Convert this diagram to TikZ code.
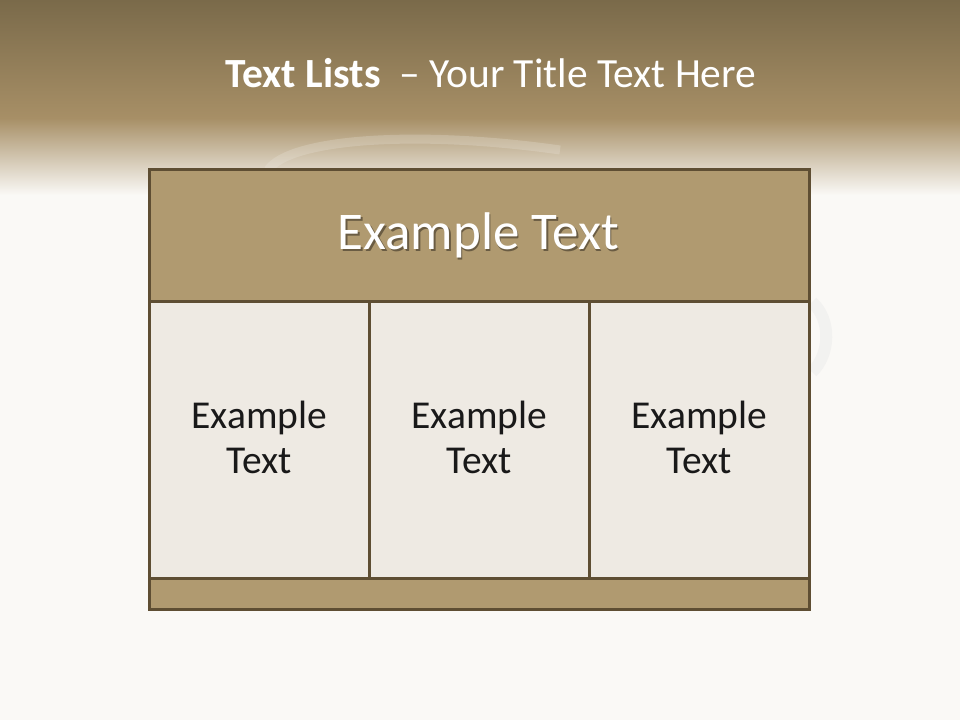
\documentclass[tikz,border=0pt]{standalone}
\usepackage{fontspec}
\setmainfont{Carlito}
\definecolor{bgc}{HTML}{FAF9F6}
\definecolor{topA}{HTML}{7A6A4A}
\definecolor{topB}{HTML}{A78F66}
\definecolor{edge}{HTML}{5E4E33}
\definecolor{tan}{HTML}{B09A70}
\definecolor{cellc}{HTML}{EEEAE3}
\colorlet{shadowc}{tan!60!black}
\newcommand{\shadowtext}[1]{\rlap{\kern1.5pt\raisebox{-2pt}{\textcolor{shadowc}{#1}}}#1}
\tikzset{
  panel/.style={draw=edge, line width=3pt, inner sep=0pt, anchor=north west},
  hdrbox/.style={panel, fill=tan, minimum width=660pt, minimum height=132pt},
  cellbox/.style={panel, fill=cellc, minimum width=220pt, minimum height=277pt},
  footbox/.style={panel, fill=tan, minimum width=660pt, minimum height=31pt},
  celltext/.style={font=\fontsize{39.5}{45}\selectfont, text=black!90, align=center},
}
\begin{document}
\begin{tikzpicture}[x=1pt,y=-1pt]
\useasboundingbox (0,0) rectangle (960,720);
% background
\fill[bgc] (0,0) rectangle (960,720);
\shade[top color=topA, bottom color=topB] (0,0) rectangle (960,118);
\shade[top color=topB, bottom color=bgc] (0,118) rectangle (960,195);
% faint swoosh
\draw[line width=9pt, white!80!topB, opacity=0.25] (268,170) .. controls (290,138) and (420,130) .. (560,150);
\draw[line width=12pt, black!10, opacity=0.35] (812,302) .. controls (832,320) and (830,355) .. (812,372);
% title
\node[anchor=base, text=white, font=\fontsize{41.5}{50}\selectfont] (title) at (491,87)
  {\textbf{Text Lists}\ \ – Your Title Text Here};
% table
\node[hdrbox] (hdr) at (148,168) {};
\node[cellbox] (c1) at (148,300) {};
\node[cellbox] (c2) at (368,300) {};
\node[cellbox] (c3) at (588,300) {};
\node[footbox] (foot) at (148,577) {};
\node[anchor=base, text=white, font=\fontsize{53}{60}\selectfont] (hdrtext) at (478.5,249.5) {\shadowtext{Example Text}};
\node[celltext] (t1) at ([yshift=3pt]c1.center) {Example\\Text};
\node[celltext] (t2) at ([yshift=3pt]c2.center) {Example\\Text};
\node[celltext] (t3) at ([yshift=3pt]c3.center) {Example\\Text};
\end{tikzpicture}
\end{document}
